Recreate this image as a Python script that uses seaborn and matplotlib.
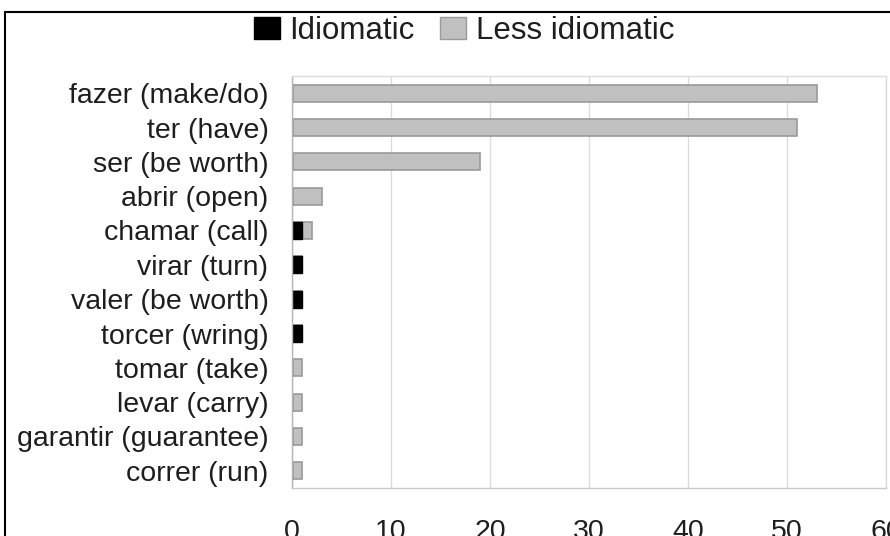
import matplotlib
matplotlib.use("Agg")
import matplotlib.pyplot as plt
from matplotlib.patches import Patch, Rectangle
import pandas as pd
import seaborn as sns

# --- data ---
verbs = [
    "fazer (make/do)", "ter (have)", "ser (be worth)", "abrir (open)",
    "chamar (call)", "virar (turn)", "valer (be worth)", "torcer (wring)",
    "tomar (take)", "levar (carry)", "garantir (guarantee)", "correr (run)",
]
idiomatic = [0, 0, 0, 0, 1, 1, 1, 1, 0, 0, 0, 0]
less_idiomatic = [53, 51, 19, 3, 1, 0, 0, 0, 1, 1, 1, 1]
x_ticks = [0, 10, 20, 30, 40, 50, 60]

GRAY = "#c0c0c0"
GRAY_EDGE = "#9a9a9a"
GRID = "#dcdcdc"
TEXT = "#1e1e1e"

df = pd.DataFrame({"verb": verbs, "idiomatic": idiomatic, "less": less_idiomatic})
df["total"] = df["idiomatic"] + df["less"]

sns.set_theme(style="white")
plt.rcParams["font.family"] = ["Liberation Sans", "DejaVu Sans"]

W, H = 890, 536
fig = plt.figure(figsize=(W / 100, H / 100), dpi=100)
ax = fig.add_axes([292 / W, 1 - 488 / H, (886 - 292) / W, (488 - 76) / H])

# stacked: gray total first, then black idiomatic part from zero
sns.barplot(data=df, y="verb", x="total", orient="h", color=GRAY, width=0.5,
            edgecolor=GRAY_EDGE, linewidth=1.2, saturation=1, ax=ax)
sns.barplot(data=df, y="verb", x="idiomatic", orient="h", color="black", width=0.5,
            edgecolor="black", linewidth=1.0, saturation=1, ax=ax)

ax.set_xlim(0, 60)
ax.set_ylim(11.5, -0.5)
ax.set_xticks(x_ticks)
ax.set_xticklabels([str(t) for t in x_ticks], fontsize=20.5, color=TEXT)
ax.set_yticks(range(len(verbs)))
ax.set_yticklabels(verbs, fontsize=20.5, color=TEXT)
ax.set_yticks([i + 0.5 for i in range(-1, len(verbs))], minor=True)
ax.tick_params(axis="y", which="major", length=0, pad=17)
ax.tick_params(axis="y", which="minor", length=8, color=GRID, width=1)
ax.tick_params(axis="x", which="major", length=13, color=GRID, width=1, pad=9)
ax.set_xlabel("")
ax.set_ylabel("")
ax.grid(axis="x", color=GRID, linewidth=1)
ax.set_axisbelow(True)
for side, sp in ax.spines.items():
    sp.set_color(GRID)
    sp.set_linewidth(1)
ax.spines["left"].set_color("#b5b5b5")
ax.spines["bottom"].set_color("#c8c8c8")

handles = [
    Patch(facecolor="black", edgecolor="black", label="Idiomatic"),
    Patch(facecolor=GRAY, edgecolor=GRAY_EDGE, label="Less idiomatic"),
]
fig.legend(handles=handles, loc="center", bbox_to_anchor=(464 / W, 1 - 31 / H),
           ncol=2, frameon=False, handlelength=0.84, handleheight=0.71,
           handletextpad=0.3, columnspacing=0.8, borderpad=0, borderaxespad=0,
           prop={"size": 22.5}, labelcolor=TEXT)

# outer frame, cut off at right and bottom like the reference
fig.patches.append(Rectangle((5 / W, -0.1), 1.2, 1 - 12 / H + 0.1,
                             transform=fig.transFigure, fill=False,
                             edgecolor="black", linewidth=1.5))

fig.savefig("out.png", dpi=100)
